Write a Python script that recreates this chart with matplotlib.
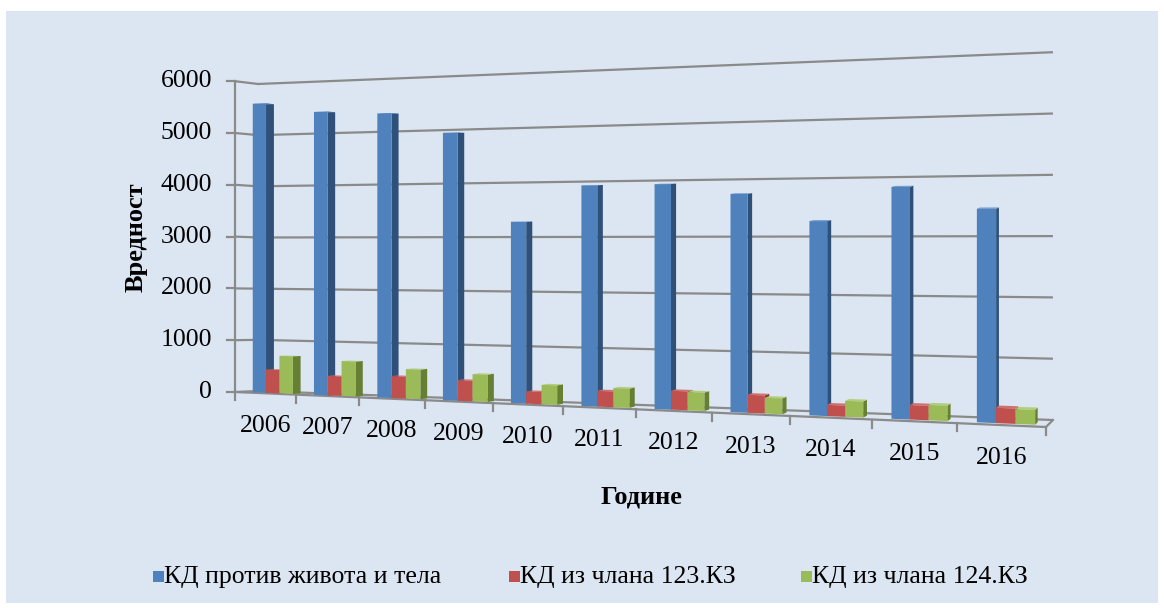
import numpy as np
import matplotlib
matplotlib.use("Agg")
import matplotlib.pyplot as plt
from matplotlib.patches import Rectangle, Polygon
from matplotlib.path import Path
import matplotlib.transforms as mtransforms
from matplotlib import font_manager as fm

# find a Times-like regular and bold serif face
reg_path = bold_path = None
for f in fm.fontManager.ttflist:
    if f.name == "Liberation Serif" and f.style == "normal":
        if f.weight in (400, "normal", "regular") and reg_path is None:
            reg_path = f.fname
        if f.weight in (700, "bold") and bold_path is None:
            bold_path = f.fname
FP = fm.FontProperties(fname=reg_path) if reg_path else fm.FontProperties(family="serif")
FPB = fm.FontProperties(fname=bold_path) if bold_path else fm.FontProperties(family="serif", weight="bold")

# ---------------- data ----------------
years = ["2006", "2007", "2008", "2009", "2010", "2011", "2012", "2013", "2014", "2015", "2016"]
kd_life = [5570, 5380, 5320, 4930, 3290, 3940, 3950, 3770, 3300, 3870, 3500]
kd_123 = [450, 370, 410, 380, 220, 280, 330, 310, 190, 240, 250]
kd_124 = [720, 660, 550, 500, 350, 340, 320, 270, 270, 255, 240]
series_names = ["КД против живота и тела", "КД из члана 123.КЗ", "КД из члана 124.КЗ"]
yticks = [0, 1000, 2000, 3000, 4000, 5000, 6000]
ylabel = "Вредност"
xlabel = "Године"

# ---------------- perspective model (figure pixel space) ----------------
W, H = 1164, 608
A_, B_, C_ = 56.12, 235.0, -0.01683


def x_front(u):
    u = np.asarray(u, float)
    return (A_ * u + B_) / (C_ * u + 1.0)


def project(u, v, d):
    u = np.asarray(u, float); v = np.asarray(v, float)
    xf = x_front(u)
    delta = 23.0 - 0.01973 * (xf - 235.0)
    X = xf + d * delta
    yf = 392.0 + 0.04316 * (X - 235.0) - v * (0.0518 + 1.27e-5 * (X - 235.0))
    yb = 391.0 + 0.03648 * (X - 258.0) - v * (0.05117 + 1.274e-5 * (X - 258.0))
    Y = (1 - d) * yf + d * yb
    return X, Y


class Persp(mtransforms.Transform):
    input_dims = 2
    output_dims = 2
    is_separable = False
    has_inverse = False

    def __init__(self, dd):
        super().__init__()
        self._dd = dd

    def transform_non_affine(self, pts):
        pts = np.asarray(pts, float)
        X, Y = project(pts[:, 0], pts[:, 1], self._dd)
        return np.column_stack([X, Y])

    def transform_path_non_affine(self, path):
        return Path(self.transform_non_affine(path.vertices), path.codes)


def fp(size, bold=False):
    p = (FPB if bold else FP).copy()
    p.set_size(size)
    return p


fig = plt.figure(figsize=(W / 100, H / 100), dpi=100)
fig.patch.set_facecolor("white")
ax = fig.add_axes([0, 0, 1, 1])
ax.set_autoscale_on(False)
ax.set_xlim(0, W)
ax.set_ylim(H, 0)
ax.axis("off")

ax.add_patch(Rectangle((6, 11), 1152, 592, facecolor="#DCE6F2", edgecolor="none", zorder=0))

grid_c = "#8A8A8A"
lw = 1.6
n = len(years)
back = Persp(1.0) + ax.transData
front = Persp(0.0) + ax.transData

# gridlines on back wall + left side wall
for v in yticks:
    ax.plot([0, n], [v, v], color=grid_c, lw=lw, transform=back, zorder=1, solid_capstyle="butt")
    x0, y0 = project(0, v, 0.0)
    x1, y1 = project(0, v, 1.0)
    ax.plot([x0, x1], [y0, y1], color=grid_c, lw=lw, zorder=1)
    ax.plot([x0 - 8, x0], [y0, y0], color=grid_c, lw=lw, zorder=1)
    ax.text(212, y0, str(v), ha="right", va="center", fontproperties=fp(18.5), zorder=5)

# vertical axis
ax.plot([0, 0], [0, yticks[-1]], color=grid_c, lw=lw, transform=front, zorder=1)

# floor outline
ax.plot([0, n], [0, 0], color=grid_c, lw=lw, transform=front, zorder=1)
xr0, yr0 = project(n, 0, 0.0)
xr1, yr1 = project(n, 0, 1.0)
ax.plot([xr0, xr1], [yr0, yr1], color=grid_c, lw=lw, zorder=1)
for i in range(n + 1):
    xt, yt = project(i, 0, 0.0)
    ax.plot([xt, xt], [yt, yt + 8], color=grid_c, lw=lw, zorder=1)

# bars
colors = [("#4F81BD", "#2E5079", "#6F97C9"),
          ("#C0504D", "#8C3633", "#D0706D"),
          ("#9BBB59", "#667F33", "#B3CE7A")]
data = [kd_life, kd_123, kd_124]
off, bw = 0.2, 0.22
d1, d2 = 0.25, 0.6
ftrans = Persp(d1) + ax.transData
for i in range(n):
    for k in range(3):
        v = data[k][i]
        uL = i + off + k * bw
        uR = uL + bw
        fc, sc, tc = colors[k]
        z = 2 + i * 0.01 + k * 0.001
        pts = [project(uR, 0, d1), project(uR, 0, d2), project(uR, v, d2), project(uR, v, d1)]
        ax.add_patch(Polygon(np.array(pts), closed=True, facecolor=sc, edgecolor="none", zorder=z))
        pts = [project(uL, v, d1), project(uR, v, d1), project(uR, v, d2), project(uL, v, d2)]
        ax.add_patch(Polygon(np.array(pts), closed=True, facecolor=tc, edgecolor="none", zorder=z))
        ax.bar([uL], [v], width=bw, align="edge", color=fc, edgecolor="none",
               transform=ftrans, zorder=z + 0.0005)

# x labels
for i, yr in enumerate(years):
    xc, yc = project(i + 0.5, 0, 0.0)
    ax.text(xc, yc + 32.5, yr, ha="center", va="center", fontproperties=fp(18.5), zorder=5)

ax.text(136, 237, ylabel, rotation=90, ha="center", va="center", fontproperties=fp(19, True))
ax.text(641, 497, xlabel, ha="center", va="center", fontproperties=fp(19, True))

# legend
leg_x = [153, 509, 801]
for k in range(3):
    ax.add_patch(Rectangle((leg_x[k], 571), 11, 11, facecolor=colors[k][0], edgecolor="none"))
    ax.text(leg_x[k] + 11, 577, series_names[k], ha="left", va="center", fontproperties=fp(18.5))

fig.savefig("out.png", dpi=100)
